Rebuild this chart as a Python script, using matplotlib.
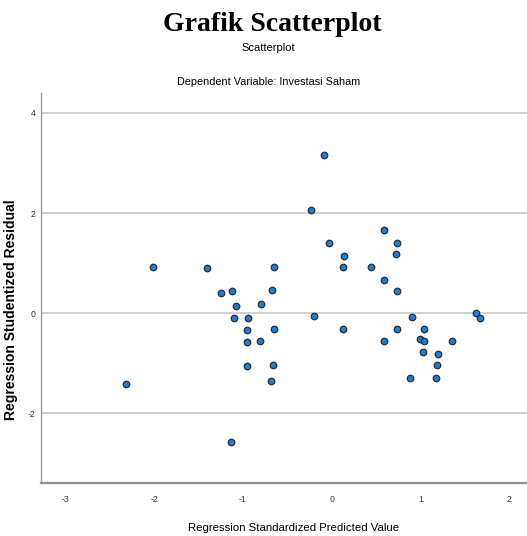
import matplotlib
matplotlib.use("Agg")
import matplotlib.pyplot as plt

# standardized predicted values (x) and studentized residuals (y)
pred = [-2.01, -1.40, -1.25, -1.12, -1.08, -0.80, -1.10, -0.94, -0.95, -0.96,
        -0.81, -0.96, -2.32, -1.13, -0.68, -0.09, -0.23, -0.03, 0.59, 0.74,
        0.72, 0.14, 0.13, -0.65, 0.44, 0.59, 0.73, -0.67, -0.20, 0.90,
        1.63, 1.67, -0.65, 0.13, 0.74, 1.04, 0.59, 1.00, 1.04, 1.35,
        1.03, 1.20, -0.66, 1.19, 0.88, 1.18]
resid = [0.92, 0.90, 0.40, 0.44, 0.15, 0.18, -0.10, -0.10, -0.33, -0.57,
         -0.55, -1.06, -1.42, -2.57, -1.36, 3.15, 2.06, 1.41, 1.66, 1.41,
         1.19, 1.15, 0.92, 0.92, 0.92, 0.67, 0.44, 0.47, -0.05, -0.07,
         0.00, -0.09, -0.32, -0.32, -0.32, -0.31, -0.55, -0.52, -0.55, -0.55,
         -0.78, -0.82, -1.04, -1.04, -1.29, -1.29]

xticks = [-3, -2, -1, 0, 1, 2]
yticks = [-2, 0, 2, 4]

sans = ['Liberation Sans', 'DejaVu Sans']

fig = plt.figure(figsize=(5.27, 5.36), dpi=100)
ax = fig.add_axes([0.078, 0.099, 0.922, 0.727])

ax.scatter(pred, resid, s=22, c='#1b7fd6', edgecolors='#2b2b2b', linewidths=0.9, zorder=3)

ax.set_xlim(-3.274, 2.20)
ax.set_ylim(-3.387, 4.39)
ax.set_yticks(yticks)
ax.set_xticks(xticks)
ax.set_yticklabels([str(t) for t in yticks], family=sans, fontsize=6.3, color='#333333')
ax.set_xticklabels([str(t) for t in xticks], family=sans, fontsize=6.3, color='#333333')
ax.tick_params(axis='x', length=0, pad=9)
ax.tick_params(axis='y', length=0, pad=4)

# horizontal grid lines like SPSS
for t in yticks:
    ax.axhline(t, color='#d0d0d0', lw=1.4, zorder=1)

for side in ['top', 'right']:
    ax.spines[side].set_visible(False)
ax.spines['left'].set_color('#a0a0a0')
ax.spines['left'].set_linewidth(1.0)
ax.spines['bottom'].set_color('#909090')
ax.spines['bottom'].set_linewidth(1.6)

ax.set_ylabel('Regression Studentized Residual', family=sans, fontweight='bold',
              fontsize=10)
ax.yaxis.set_label_coords(-0.047, 0.444)
ax.set_xlabel('Regression Standardized Predicted Value', family=sans,
              fontsize=8.2, va='center')
ax.xaxis.set_label_coords(0.52, -0.115)

fig.text(0.517, 0.955, 'Grafik Scatterplot', family=['Liberation Serif', 'DejaVu Serif'],
         fontweight='bold', fontsize=20, ha='center', va='center')
fig.text(0.510, 0.910, 'Scatterplot', family=sans, fontsize=8,
         ha='center', va='center')
fig.text(0.510, 0.847, 'Dependent Variable: Investasi Saham', family=sans,
         fontsize=7.8, ha='center', va='center')

fig.savefig('out.png', dpi=100)
